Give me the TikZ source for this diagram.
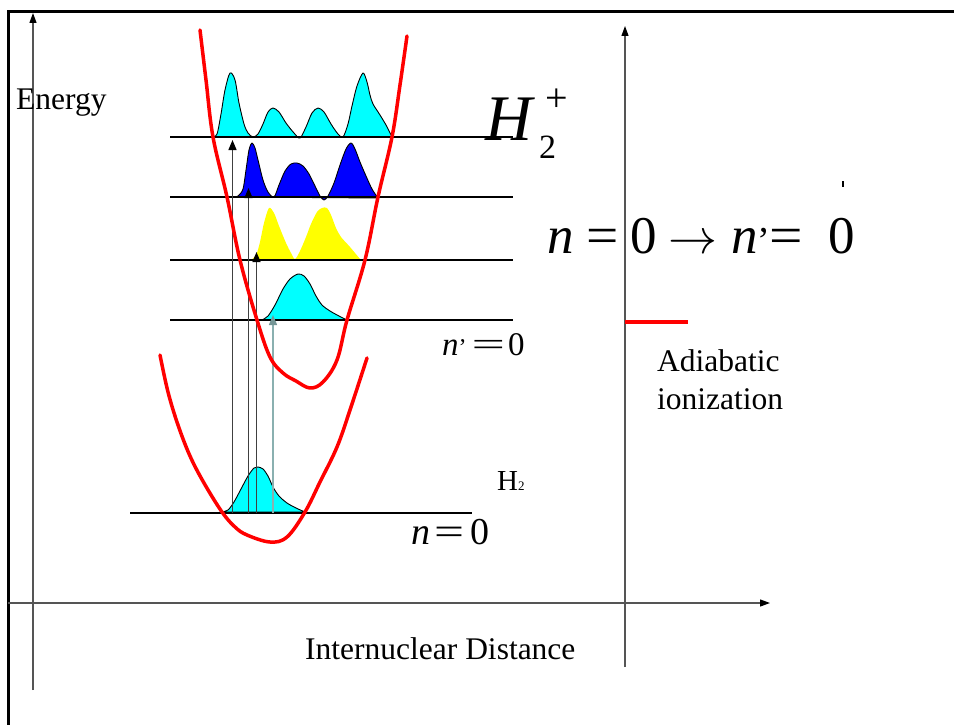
\documentclass[tikz,border=0pt]{standalone}
\usepackage{fontspec}
\setmainfont{Liberation Serif}
\usetikzlibrary{arrows.meta}
\definecolor{cyanw}{HTML}{00FFFF}
\definecolor{bluew}{HTML}{0000FF}
\definecolor{yelw}{HTML}{FFFF00}
\definecolor{potred}{HTML}{FF0000}
\definecolor{axgray}{HTML}{555555}
\definecolor{trgray}{HTML}{404040}
\definecolor{trteal}{HTML}{8AB0B0}
\newcommand\myprime[1]{{\fontsize{#1}{#1}\selectfont ’}}
\begin{document}
\begin{tikzpicture}[x=1pt,y=-1pt,
  axisline/.style={draw=axgray,line width=1.2pt,-{Triangle[length=10pt,width=7pt,color=black]}},
  levelline/.style={draw=black,line width=1.3pt},
  potcurve/.style={draw=potred,line width=3.5pt,line join=round,line cap=round},
  wave/.style={draw=black,line width=0.9pt,line join=round},
  trans/.style={draw=trgray,line width=1.3pt,-{Triangle[length=10pt,width=8pt,color=black]}},
  transb/.style={draw=trteal,line width=1.3pt,-{Triangle[length=10pt,width=8pt,color=trteal!85!black]}},
  lbl/.style={inner sep=0pt,anchor=base west,font=\fontsize{31.5}{38}\selectfont}]
\useasboundingbox (0,0) rectangle (954,725);
\fill[white] (0,0) rectangle (954,725);
% frame
\draw[line width=3pt] (954,12) -- (8.5,12) -- (8.5,725);
% axes
\coordinate (eb) at (33,690); \coordinate (et) at (33,13);
\coordinate (rl) at (8,603); \coordinate (rr) at (770,603);
\coordinate (vb) at (625,667); \coordinate (vt) at (625,26);
\draw[axisline] (eb) -- (et);
\draw[axisline] (rl) -- (rr);
\draw[axisline] (vb) -- (vt);
% wavefunctions
\filldraw[wave,fill=cyanw] plot[smooth,tension=0.5] coordinates {(212,137) (217,134) (221,114) (225,90) (230,73) (235,80) (239,103) (244,124) (248,133) (253,137) (258,134) (263,124) (268,112) (273,108) (279,112) (286,123) (294,133) (300,138) (306,127) (312,113) (318,108) (324,112) (331,124) (338,134) (343,137) (348,124) (352,106) (357,86) (363,73) (367,82) (370,95) (373,104) (380,115) (386,125) (392,136) (398,137) (405,137)} -- cycle;
\filldraw[wave,fill=bluew] plot[smooth,tension=0.5] coordinates {(232,197) (238,196) (243,189) (246,170) (249,150) (252,143) (255,148) (258,160) (263,180) (268,192) (274,197) (279,185) (285,171) (291,164) (297,163) (303,166) (309,174) (315,186) (320,196) (324,200) (328,196) (334,183) (340,165) (346,149) (351,143) (355,149) (360,162) (366,176) (372,189) (378,198)} -- cycle;
\fill[yelw] plot[smooth,tension=0.5] coordinates {(242,260) (249,261) (256,255) (260,242) (264,223) (269,208) (274,213) (279,226) (286,243) (291,253) (295,259) (300,251) (306,237) (311,224) (317,212) (322,208) (327,208) (331,215) (336,228) (341,237) (350,247) (360,259)} -- cycle;
\filldraw[wave,fill=cyanw] plot[smooth,tension=0.5] coordinates {(262,320) (268,316) (275,305) (283,289) (290,279) (298,274) (304,276) (310,284) (316,296) (322,305) (330,311) (339,316) (347,320)} -- cycle;
\filldraw[wave,fill=cyanw] plot[smooth,tension=0.5] coordinates {(222,512) (228,510) (234,502) (241,489) (248,476) (254,468) (258,467) (263,469) (268,476) (273,487) (279,496) (287,503) (296,508) (305,512)} -- cycle;
% vibrational levels
\coordinate (l3a) at (170,137); \coordinate (l3b) at (513,137);
\coordinate (l2a) at (170,197); \coordinate (l2b) at (513,197);
\coordinate (l1a) at (170,260); \coordinate (l1b) at (513,260);
\coordinate (l0a) at (170,320); \coordinate (l0b) at (513,320);
\coordinate (g0a) at (130,513); \coordinate (g0b) at (472,513);
\draw[levelline] (l3a) -- (l3b);
\draw[levelline] (l2a) -- (l2b);
\draw[levelline] (l1a) -- (l1b);
\draw[levelline] (l0a) -- (l0b);
\draw[levelline] (g0a) -- (g0b);
% transitions
\coordinate (t1s) at (232.5,513); \coordinate (t1e) at (232.5,140);
\coordinate (t2s) at (248.5,513); \coordinate (t2e) at (248.5,188);
\coordinate (t3s) at (256.5,513); \coordinate (t3e) at (256.5,252);
\coordinate (t4s) at (273,513); \coordinate (t4e) at (273,315);
\draw[trans] (t1s) -- (t1e);
\draw[trans] (t2s) -- (t2e);
\draw[trans] (t3s) -- (t3e);
\draw[transb] (t4s) -- (t4e);
% potential curves
\draw[potcurve] plot[smooth,tension=0.6] coordinates {(200,30) (206,80) (213,137) (227,197) (240,260) (257,320) (270,357) (283,373) (296,381) (310,388) (323,382) (337,360) (347,320) (365,260) (378,197) (392,137) (400,85) (407,36)};
\draw[potcurve] plot[smooth,tension=0.6] coordinates {(160,355) (168,392) (178,425) (190,456) (204,483) (222,512) (235,527) (247,535) (270,542) (287,537) (305,512) (320,482) (337,447) (350,410) (367,358)};
% legend
\coordinate (rla) at (625,322); \coordinate (rlb) at (688,322);
\draw[draw=potred,line width=3.5pt] (rla) -- (rlb);
\coordinate (tka) at (843,181); \coordinate (tkb) at (843,187);
\draw[line width=2pt] (tka) -- (tkb);
% texts
\node[lbl] (energy) at (16,110) {Energy};
\node[lbl] (dist) at (305,659) {Internuclear Distance};
\node[lbl] (adia) at (657,371) {Adiabatic};
\node[lbl] (ioni) at (657,409) {ionization};
\node[lbl,font=\fontsize{29}{34}\selectfont] (h2) at (497,490) {H\fontsize{13}{15}\selectfont 2};
\node[lbl,font=\fontsize{65}{70}\selectfont\itshape] (Hion) at (485,140) {H};
\node[lbl,font=\fontsize{34}{40}\selectfont] (Hsub) at (539,158) {2};
\node[inner sep=0pt,font=\fontsize{40}{44}\selectfont] (Hsup) at (557,100) {+};
\node[lbl,font=\fontsize{53}{60}\selectfont] (eq) at (547,253) {\itshape n\upshape\hspace{0.25em}\scalebox{1.08}[1]{=}\hspace{0.22em}0\hspace{11pt}\resizebox{49pt}{!}{$\rightarrow$}\hspace{14pt}\itshape n\upshape\myprime{38}\hspace{-1pt}\scalebox{1.12}[1]{=}\hspace{25pt}0};
\node[lbl,font=\fontsize{33}{40}\selectfont] (nprime) at (442,355) {\itshape n\upshape\myprime{24}\hspace{5pt}\scalebox{1.8}[1]{=}\hspace{3pt}0};
\node[lbl,font=\fontsize{38}{44}\selectfont] (nzero) at (411,544) {\itshape n\upshape\hspace{4pt}\scalebox{1.4}[1]{=}\hspace{6pt}0};
\end{tikzpicture}
\end{document}
